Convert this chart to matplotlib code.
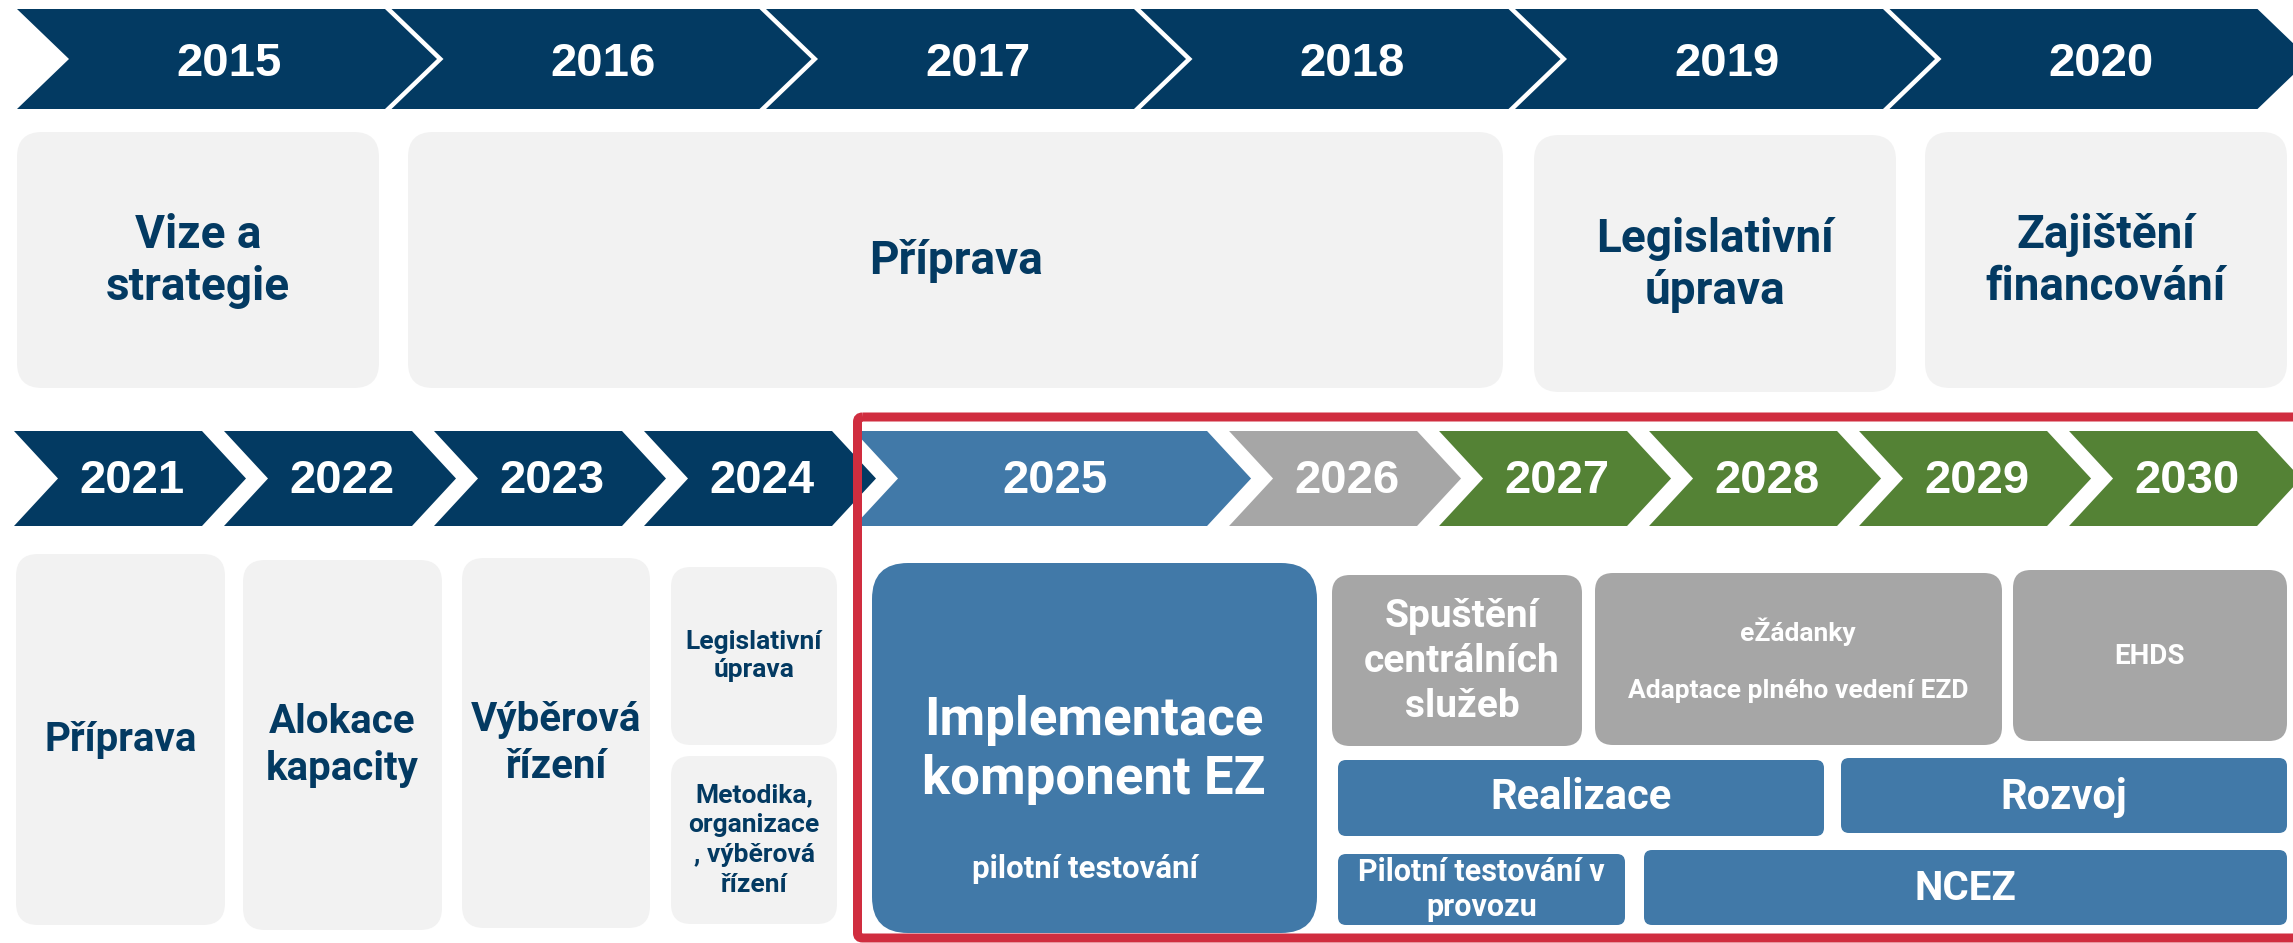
import matplotlib
matplotlib.use("Agg")
import matplotlib.pyplot as plt
from matplotlib.patches import Polygon, FancyBboxPatch

# ---------------- data ----------------
years_top = ["2015", "2016", "2017", "2018", "2019", "2020"]
years_bottom = ["2021", "2022", "2023", "2024", "2025", "2026", "2027", "2028", "2029", "2030"]
bottom_slot_units = [1, 1, 1, 1, 1.786, 1, 1, 1, 1, 1]   # relative slot width per year
bottom_year_kind = ["past", "past", "past", "past", "now", "next", "future", "future", "future", "future"]

top_phases = ["Vize a\nstrategie", "Příprava", "Legislativní\núprava", "Zajištění\nfinancování"]
bottom_left_phases = ["Příprava", "Alokace\nkapacity", "Výběrová\nřízení"]
small_phases = ["Legislativní\núprava", "Metodika,\norganizace\n, výběrová\nřízení"]
main_title = "Implementace\nkomponent EZ"
main_sub = "pilotní testování"
gray_items = ["Spuštění\ncentrálních\nslužeb", "eŽádanky", "Adaptace plného vedení EZD", "EHDS"]
blue_bars = ["Realizace", "Rozvoj", "Pilotní testování v\nprovozu", "NCEZ"]

# ---------------- style ----------------
NAVY = "#033A62"
BLUE = "#4179A8"
GRAY = "#A6A6A6"
GREEN = "#548235"
LIGHT = "#F2F2F2"
RED = "#D02D3F"
kind_color = {"past": NAVY, "now": BLUE, "next": GRAY, "future": GREEN}
FONT = ["Roboto", "DejaVu Sans"]
YFONT = ["Liberation Sans", "DejaVu Sans"]

W, H = 2293, 943
fig = plt.figure(figsize=(W / 100, H / 100), dpi=100)
ax = fig.add_axes([0, 0, 1, 1])
ax.set_xlim(0, W)
ax.set_ylim(H, 0)
ax.axis("off")

PX2PT = 72 / 100.0


def chevron(x, ytop, ybot, w, d, color):
    ym = (ytop + ybot) / 2
    pts = [(x, ytop), (x + w, ytop), (x + w + d, ym), (x + w, ybot), (x, ybot), (x + d, ym)]
    ax.add_patch(Polygon(pts, closed=True, facecolor=color, edgecolor="none", zorder=2))


def rbox(x0, x1, y0, y1, color, r):
    ax.add_patch(FancyBboxPatch((x0, y0), x1 - x0, y1 - y0,
                                boxstyle=f"round,pad=0,rounding_size={r}",
                                facecolor=color, edgecolor="none", zorder=2))


def lines(xc, yc, text, size, color, spacing, family=FONT):
    parts = text.split("\n")
    n = len(parts)
    cap = 0.711 * size / PX2PT
    first = yc - (n - 1) * spacing / 2 + cap / 2
    for i, p in enumerate(parts):
        ax.text(xc, first + i * spacing, p, ha="center", va="baseline",
                fontsize=size, fontweight="bold", color=color, family=family, zorder=5)


# ---------------- top row chevrons ----------------
tx0, tper, tw, td, ty0, ty1 = 17, 374.5, 368, 52, 9, 109
for i, y in enumerate(years_top):
    x = tx0 + i * tper
    chevron(x, ty0, ty1, tw, td, NAVY)
    ax.text(x + (tw + td) / 2 + 2, 76, y, ha="center", va="baseline", fontsize=34,
            fontweight="bold", color="white", family=YFONT, zorder=5)

# ---------------- top phase boxes ----------------
top_boxes = [(17, 379, 132, 388), (408, 1503, 132, 388), (1534, 1896, 135, 392), (1925, 2287, 132, 388)]
for (x0, x1, y0, y1), t in zip(top_boxes, top_phases):
    rbox(x0, x1, y0, y1, LIGHT, 25)
    lines((x0 + x1) / 2, (y0 + y1) / 2 - 2, t, 33, NAVY, 52)

# ---------------- bottom row chevrons ----------------
bx, bper, bgap, bd, by0, by1 = 14, 210, 22, 44, 431, 526
x = bx
for y, u, k in zip(years_bottom, bottom_slot_units, bottom_year_kind):
    slot = bper * u
    w = slot - bgap
    chevron(x, by0, by1, w, bd, kind_color[k])
    ax.text(x + (w + bd) / 2 + 2, 493, y, ha="center", va="baseline", fontsize=34,
            fontweight="bold", color="white", family=YFONT, zorder=5)
    x += slot

# ---------------- bottom-left phase boxes ----------------
bl_boxes = [(16, 225, 554, 925), (243, 442, 560, 930), (462, 650, 558, 928)]
for (x0, x1, y0, y1), t in zip(bl_boxes, bottom_left_phases):
    rbox(x0, x1, y0, y1, LIGHT, 22)
    lines((x0 + x1) / 2, (y0 + y1) / 2 - 3, t, 29, NAVY, 47)

small_boxes = [(671, 837, 567, 745), (671, 837, 756, 924)]
small_spacing = [28, 30]
for (x0, x1, y0, y1), t, sp in zip(small_boxes, small_phases, small_spacing):
    rbox(x0, x1, y0, y1, LIGHT, 20)
    lines((x0 + x1) / 2, (y0 + y1) / 2 - 2, t, 19, NAVY, sp)

# ---------------- right part (2025+) ----------------
rbox(872, 1317, 563, 933, BLUE, 36)
lines(1094, 746, main_title, 38, "white", 59)
lines(1085, 867, main_sub, 22.5, "white", 30)

rbox(1332, 1582, 575, 746, GRAY, 18)
lines(1462, 658, gray_items[0], 28, "white", 45)
rbox(1595, 2002, 573, 745, GRAY, 18)
lines(1798, 632, gray_items[1], 19, "white", 30)
lines(1798, 689, gray_items[2], 19, "white", 30)
rbox(2013, 2287, 570, 741, GRAY, 18)
lines(2150, 654, gray_items[3], 20, "white", 30)

bar_boxes = [(1338, 1824, 760, 836), (1841, 2287, 758, 833), (1338, 1625, 854, 925), (1644, 2287, 850, 925)]
bar_sizes = [30, 30, 22, 29]
bar_text_y = [794, 794, 888, 886]
for (x0, x1, y0, y1), t, s, ty in zip(bar_boxes, blue_bars, bar_sizes, bar_text_y):
    rbox(x0, x1, y0, y1, BLUE, 8)
    lines((x0 + x1) / 2, ty, t, s, "white", 35)

# ---------------- red frame ----------------
ax.add_patch(FancyBboxPatch((857.5, 417), W + 40 - 857.5, 938 - 417,
                            boxstyle="round,pad=0,rounding_size=5",
                            facecolor="none", edgecolor=RED, linewidth=9 * PX2PT, zorder=6))

fig.savefig("out.png", dpi=100)
